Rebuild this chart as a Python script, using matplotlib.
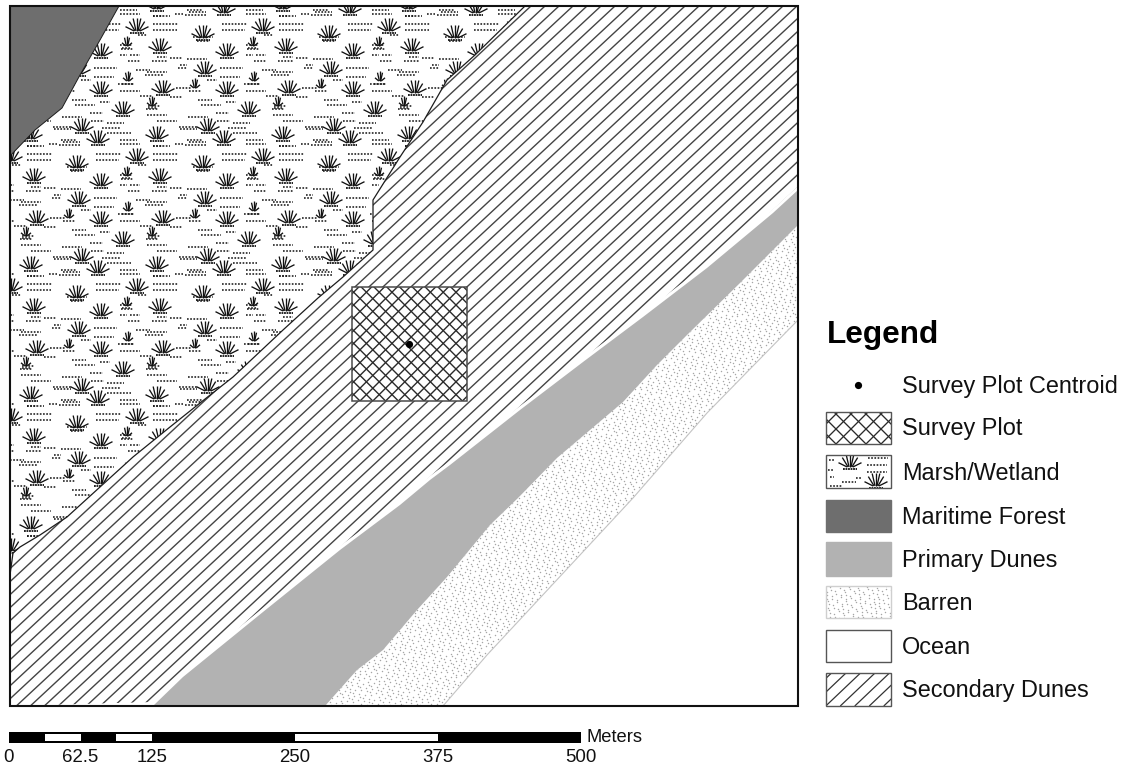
import numpy as np
import matplotlib
matplotlib.use("Agg")
import matplotlib.pyplot as plt
from matplotlib.collections import LineCollection
from matplotlib.patches import Polygon, Rectangle

plt.rcParams['font.family'] = ['Liberation Sans', 'DejaVu Sans']

# map frame, in pixels of the scanned figure
frame_x = [10, 798]
frame_y = [6, 706]

forest_x = [10, 119, 100, 80, 62, 35, 10]
forest_y = [6, 6, 40, 75, 108, 130, 156]

# edge between marsh and secondary dunes, top to bottom
marsh_edge_x = [525, 475, 447, 423, 400, 373, 373, 343, 318, 283, 233, 200, 170, 133, 100, 67, 40, 20, 13, 10]
marsh_edge_y = [6, 55, 80, 122, 157, 200, 250, 277, 298, 330, 377, 403, 427, 457, 487, 517, 535, 547, 553, 575]

# primary dunes, bottom to right
dune_top_x = [153, 183, 263, 340, 400, 430, 450, 520, 583, 643, 707, 773, 798]
dune_top_y = [706, 677, 612, 550, 505, 480, 465, 410, 362, 317, 268, 213, 190]
dune_low_x = [325, 357, 383, 417, 447, 490, 518, 557, 590, 623, 657, 687, 740, 798]
dune_low_y = [706, 670, 650, 610, 577, 525, 498, 458, 430, 402, 365, 335, 283, 225]

# barren strip, seaward edge
barren_low_x = [443, 487, 633, 707, 798]
barren_low_y = [706, 655, 498, 413, 320]

plot_x = [352, 467]
plot_y = [287, 401]
centroid = (409, 344)

legend_labels = ["Survey Plot Centroid", "Survey Plot", "Marsh/Wetland", "Maritime Forest",
                 "Primary Dunes", "Barren", "Ocean", "Secondary Dunes"]
legend_text_y = [386, 429, 473, 517, 561, 604, 648, 691]
swatch_top = [412, 455, 500, 542, 586, 630, 673]
swatch_bottom = [444, 488, 532, 576, 618, 662, 706]

scale_ticks = [0, 62.5, 125, 250, 375, 500]
scale_labels = ["0", "62.5", "125", "250", "375", "500"]
scale_white = [(31.25, 62.5), (93.75, 125), (250, 375)]

# one tile of the marsh pattern
tile_w = 126
tile_h = 130
big_tufts = [(137, 25), (203, 32), (160, 45), (227, 50), (205, 68), (163, 87), (227, 88),
             (123, 108), (208, 125), (157, 133), (224, 137)]
small_tufts = [(127, 40), (128, 75), (195, 82), (152, 100)]
dash_rows = [(120, 140, 14), (185, 207, 15), (175, 183, 14), (153, 178, 24), (96, 121, 24), (153, 177, 30),
             (96, 119, 30), (193, 213, 37), (197, 210, 41), (138, 147, 35), (120, 132, 45), (122, 130, 48),
             (130, 140, 55), (120, 127, 55), (128, 140, 61), (157, 167, 57), (170, 182, 58), (152, 167, 61),
             (187, 207, 59), (180, 187, 65), (178, 187, 68), (147, 167, 72), (145, 163, 75), (94, 117, 68),
             (207, 217, 80), (94, 114, 77), (120, 140, 91), (170, 182, 97), (198, 212, 100), (201, 221, 105),
             (100, 110, 102), (148, 160, 106), (148, 157, 108), (216, 229, 113), (147, 167, 115), (188, 208, 117),
             (157, 177, 121), (217, 230, 121), (107, 124, 123), (179, 198, 127), (102, 120, 128), (180, 197, 129),
             (107, 131, 133), (120, 137, 140), (187, 203, 140), (189, 206, 142), (153, 163, 146), (153, 170, 146),
             (140, 152, 96), (118, 134, 84), (176, 192, 88), (136, 150, 70)]

GRAY_FOREST = '#6e6e6e'
GRAY_DUNE = '#b2b2b2'
INK = '#1c1c1c'


def tuft_lines(cx, cy, half_w=11.5, h=13.5, n=7):
    base = cy + 6
    segs = []
    for a in np.linspace(-1, 1, n):
        segs.append([(cx + a * half_w * 0.25, base), (cx + a * half_w, base - h * (1 - 0.68 * a * a))])
    return segs, [[(cx - 7, base + 1.5), (cx + 7, base + 1.5)]]


def draw_marsh(ax, clip, big, small, dashes):
    rays, thick, dots = [], [], []
    for cx, cy in big:
        s, b = tuft_lines(cx, cy)
        rays += s
        thick += b
    for cx, cy in small:
        s, b = tuft_lines(cx, cy, half_w=5, h=10, n=5)
        rays += s
        dots += [[(cx - 6, cy + 9), (cx + 6, cy + 9)]]
    dots += [[(x0, y), (x1, y)] for x0, x1, y in dashes]
    for segs, lw, ls in [(rays, 0.95, '-'), (thick, 1.3, (0, (1.0, 0.4))), (dots, 1.1, (0, (1.1, 1.0)))]:
        lc = LineCollection(segs, colors='#111111', linewidths=lw, linestyles=[ls], zorder=2)
        ax.add_collection(lc)
        lc.set_clip_path(clip)


def tiled(points, x0, x1, y0, y1):
    out = []
    for i in range(-2, 8):
        for j in range(-1, 7):
            for p in points:
                q = (p[0] + i * tile_w, p[1] + j * tile_h)
                if x0 - 30 < q[0] < x1 + 30 and y0 - 30 < q[1] < y1 + 30:
                    out.append(q)
    return out


def tiled_dashes(rows, x0, x1, y0, y1):
    out = []
    for i in range(-2, 8):
        for j in range(-1, 7):
            for a, b, y in rows:
                yy = y + j * tile_h
                if x0 - 40 < a + i * tile_w < x1 and y0 - 10 < yy < y1 + 10:
                    out.append((a + i * tile_w, b + i * tile_w, yy))
    return out


def hatch_lines(ax, clip, slope, dx, x0, x1, y0, y1, color, lw, start=0.0):
    # lines y = y1 - slope*(x - c), c running along the bottom edge
    span = (y1 - y0) / abs(slope)
    segs = []
    for c in np.arange(start - span - (x1 - x0) - 20 * dx, x1 + span + dx, dx):
        segs.append([(c, y1), (c + span if slope > 0 else c - span, y0)])
    lc = LineCollection(segs, colors=color, linewidths=lw, zorder=3)
    ax.add_collection(lc)
    lc.set_clip_path(clip)


def stipple(ax, clip, x0, x1, y0, y1, size=1.1):
    # even low discrepancy point set for the sand fill
    n = int((x1 - x0) * (y1 - y0) / 18)
    k = np.arange(1, n + 1)
    px = x0 + (x1 - x0) * ((k * 0.7548776662) % 1)
    py = y0 + (y1 - y0) * ((k * 0.5698402910) % 1)
    sc = ax.scatter(px, py, s=size, c='#a6a6a6', linewidths=0, zorder=2)
    sc.set_clip_path(clip)


fig = plt.figure(figsize=(11.25, 7.7), dpi=100)
ax = fig.add_axes([0, 0, 1, 1])
ax.set_xlim(0, 1125)
ax.set_ylim(770, 0)
ax.axis('off')

L, R = frame_x
T, B = frame_y

# marsh
marsh_xy = [(L, T)] + list(zip(marsh_edge_x, marsh_edge_y))
marsh = Polygon(marsh_xy, closed=True, fc='white', ec='none', zorder=1)
ax.add_patch(marsh)
draw_marsh(ax, marsh, tiled(big_tufts, L, 530, T, 580), tiled(small_tufts, L, 530, T, 580),
           tiled_dashes(dash_rows, L, 530, T, 580))

# secondary dunes, hatch stops just short of the primary dunes
sec_xy = list(zip(marsh_edge_x, marsh_edge_y)) + [(L, B)] + \
    [(x, y - 4) for x, y in zip(dune_top_x, dune_top_y)] + [(R, T)]
sec = Polygon(sec_xy, closed=True, fc='white', ec='none', zorder=2.5)
ax.add_patch(sec)
hatch_lines(ax, sec, 0.93, 14.0, L, R, T, B, '#444444', 1.0, start=3)
ax.plot(marsh_edge_x, marsh_edge_y, color=INK, lw=0.9, zorder=4)

# primary dunes
dune_xy = list(zip(dune_top_x, dune_top_y)) + list(zip(dune_low_x, dune_low_y))[::-1]
ax.add_patch(Polygon(dune_xy, closed=True, fc=GRAY_DUNE, ec='none', zorder=3))

# barren
barren_xy = list(zip(dune_low_x, dune_low_y)) + list(zip(barren_low_x, barren_low_y))[::-1]
barren = Polygon(barren_xy, closed=True, fc='white', ec='none', zorder=1)
ax.add_patch(barren)
stipple(ax, barren, 320, R, 220, B)
ax.plot(barren_low_x, barren_low_y, color='#c4c4c4', lw=0.8, zorder=3)

# forest on top
forest_xy = list(zip(forest_x, forest_y))
ax.add_patch(Polygon(forest_xy, closed=True, fc=GRAY_FOREST, ec=INK, lw=0.7, zorder=4))

# survey plot
plot_rect = Rectangle((plot_x[0], plot_y[0]), plot_x[1] - plot_x[0], plot_y[1] - plot_y[0],
                      fc='white', ec='none', zorder=5)
ax.add_patch(plot_rect)
for s in (1, -1):
    c = LineCollection([], zorder=6)
    hatch_segs = []
    for k in np.arange(-20, 40):
        x = plot_x[0] - 120 + k * 12.8
        hatch_segs.append([(x, plot_y[1]), (x + s * 130, plot_y[1] - 130)])
    c.set_segments(hatch_segs)
    c.set_color('#2a2a2a')
    c.set_linewidth(1.0)
    ax.add_collection(c)
    c.set_clip_path(plot_rect)
ax.add_patch(Rectangle((plot_x[0], plot_y[0]), plot_x[1] - plot_x[0], plot_y[1] - plot_y[0],
                       fc='none', ec='#4a4a4a', lw=1.1, zorder=7))
ax.plot(*centroid, 'o', color='black', ms=5.2, mew=0, zorder=8)

# frame
ax.add_patch(Rectangle((L, T), R - L, B - T, fc='none', ec='#111111', lw=1.5, zorder=9))

# legend
ax.text(827, 335, "Legend", fontsize=22.7, fontweight='bold', ha='left', va='center', color='black')
for label, y in zip(legend_labels, legend_text_y):
    ax.text(902, y, label, fontsize=16.9, ha='left', va='center', color='#111111')
ax.plot(858, 385, 'o', color='black', ms=5.2, mew=0)

sx0, sx1 = 826, 891


def swatch(i, fc='white', ec='#555555'):
    r = Rectangle((sx0, swatch_top[i]), sx1 - sx0, swatch_bottom[i] - swatch_top[i], fc=fc, ec='none', zorder=1)
    ax.add_patch(r)
    ax.add_patch(Rectangle((sx0, swatch_top[i]), sx1 - sx0, swatch_bottom[i] - swatch_top[i],
                           fc='none', ec=ec, lw=1.0, zorder=6))
    return r


r = swatch(0)
for s in (1, -1):
    segs = [[(sx0 - 50 + k * 15, swatch_bottom[0]), (sx0 - 50 + k * 15 + s * 50, swatch_bottom[0] - 50)] for k in range(-4, 14)]
    lc = LineCollection(segs, colors='#2a2a2a', linewidths=0.95, zorder=3)
    ax.add_collection(lc)
    lc.set_clip_path(r)

r = swatch(1)
draw_marsh(ax, r, [(850, 461), (876, 480)], [],
           [(829, 835, 460), (868, 888, 458), (867, 887, 465), (867, 887, 472), (828, 834, 470),
            (842, 856, 482), (830, 842, 486), (830, 834, 477), (856, 862, 478)])

swatch(2, GRAY_FOREST, GRAY_FOREST)
swatch(3, GRAY_DUNE, GRAY_DUNE)
r = swatch(4, 'white', '#cfcfcf')
stipple(ax, r, sx0, sx1, swatch_top[4], swatch_bottom[4])
swatch(5)
r = swatch(6)
hatch_lines(ax, r, 0.95, 14.5, sx0, sx1, swatch_top[6], swatch_bottom[6], '#333333', 0.9, start=sx0 - 2)

# scale bar
bar_x = lambda m: 9 + 1.144 * np.asarray(m, dtype=float)
ax.add_patch(Rectangle((bar_x(0), 732), bar_x(500) - bar_x(0), 11, fc='black', ec='none'))
for a, b in scale_white:
    ax.add_patch(Rectangle((bar_x(a), 734), bar_x(b) - bar_x(a), 7, fc='white', ec='none', zorder=2))
for t, lab in zip(scale_ticks, scale_labels):
    ax.text(bar_x(t), 757.5, lab, fontsize=13.4, ha='center', va='center', color='#111111')
ax.text(586, 737, "Meters", fontsize=13.2, ha='left', va='center', color='#111111')

fig.savefig('out.png', dpi=100, facecolor='white')
